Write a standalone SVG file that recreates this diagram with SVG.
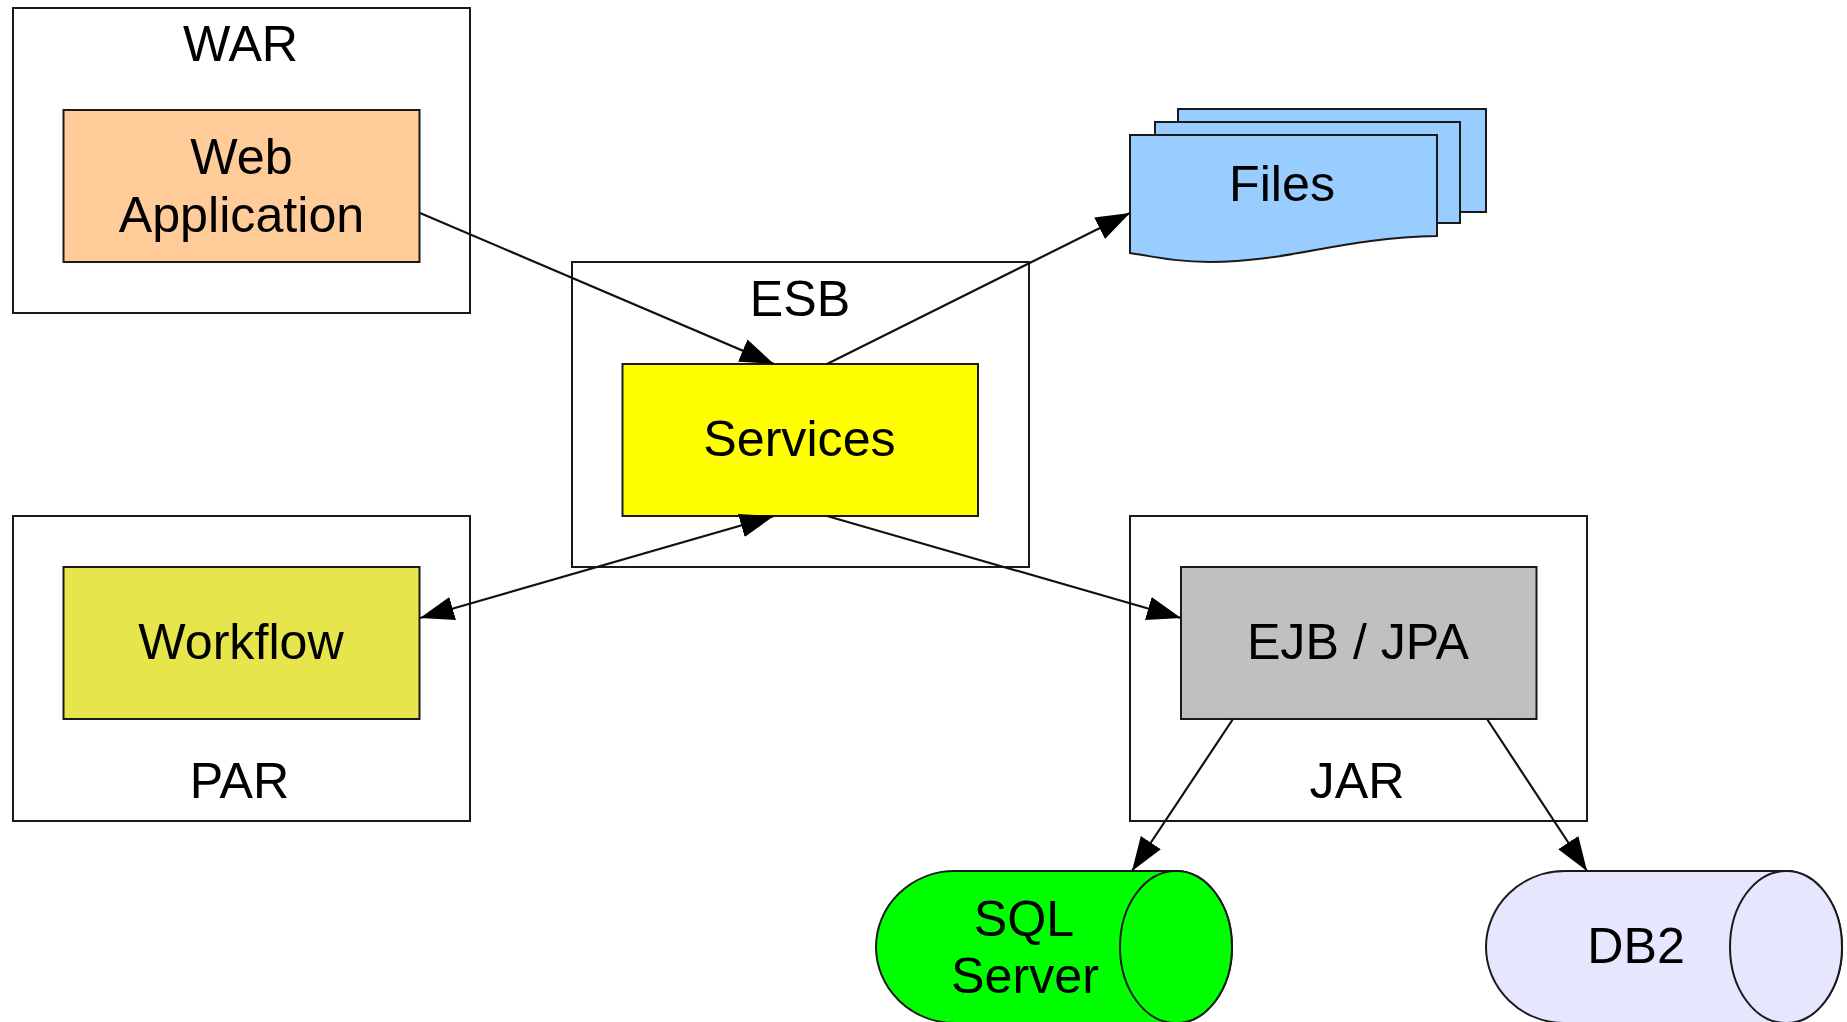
<svg xmlns="http://www.w3.org/2000/svg" width="1847" height="1022" viewBox="0 0 1847 1022">
<style>
text{font-family:"Liberation Sans",Arial,sans-serif;font-size:50.200px;fill:#000;text-anchor:middle}
.b{stroke:#1a1a1a;stroke-width:2}
.c{fill:#fff}
.l{stroke:#111;stroke-width:2.200;fill:none;marker-end:url(#a)}
</style>
<defs>
<marker id="a" markerUnits="userSpaceOnUse" markerWidth="36" markerHeight="28" refX="34" refY="12" orient="auto-start-reverse" viewBox="0 0 36 24"><path d="M0 0L34 12L0 24Z" fill="#000"/></marker>
</defs>
<rect width="1847" height="1022" fill="#fff"/>
<g id="war"><rect class="b c" x="13" y="8" width="457" height="305"/><text x="240.500" y="61">WAR</text></g>
<g id="web"><rect class="b" x="63.500" y="110" width="356" height="152" fill="#ffcc99"/><text x="241.500" y="174">Web</text><text x="241.500" y="232">Application</text></g>
<g id="esb"><rect class="b c" x="572" y="262" width="457" height="305"/><text x="800" y="316">ESB</text></g>
<g id="services"><rect class="b" x="622.500" y="364" width="355.500" height="152" fill="#ffff00"/><text x="799.500" y="456">Services</text></g>
<g id="par"><rect class="b c" x="13" y="516" width="457" height="305"/><text x="239.500" y="798">PAR</text></g>
<g id="workflow"><rect class="b" x="63.500" y="567" width="356" height="152" fill="#e6e64c"/><text x="241" y="659">Workflow</text></g>
<g id="jar"><rect class="b c" x="1130" y="516" width="457" height="305"/><text x="1357" y="798">JAR</text></g>
<g id="ejb"><rect class="b" x="1181" y="567" width="355.500" height="152" fill="#c0c0c0"/><text x="1358" y="659">EJB / JPA</text></g>
<g id="files">
<rect class="b" x="1178" y="109" width="308" height="103" fill="#99ccff"/>
<rect class="b" x="1155" y="122" width="305" height="101" fill="#99ccff"/>
<path class="b" d="M1130 135H1437V236C1340 238 1290 262 1210 262C1180 262 1160 258 1130 253Z" fill="#99ccff"/>
<text x="1282" y="201">Files</text>
</g>
<g id="sql">
<path class="b" d="M955 871H1176A56 76 0 0 1 1176 1023H955A79 76 0 0 1 955 871Z" fill="#00ff00"/>
<ellipse class="b" cx="1176" cy="947" rx="56" ry="76" fill="#00ff00"/>
<text x="1024" y="936">SQL</text><text x="1025" y="993">Server</text>
</g>
<g id="db2">
<path class="b" d="M1565 871H1786A56 76 0 0 1 1786 1023H1565A79 76 0 0 1 1565 871Z" fill="#e6e6ff"/>
<ellipse class="b" cx="1786" cy="947" rx="56" ry="76" fill="#e6e6ff"/>
<text x="1636" y="963">DB2</text>
</g>
<g id="connectors">
<path class="l" d="M420 213L774 364"/>
<path class="l" d="M827 364L1130 213"/>
<path class="l" d="M774 516L420 618" marker-start="url(#a)"/>
<path class="l" d="M827 516L1181 618"/>
<path class="l" d="M1233 719L1132 871"/>
<path class="l" d="M1487 719L1587 871"/>
</g>
</svg>
